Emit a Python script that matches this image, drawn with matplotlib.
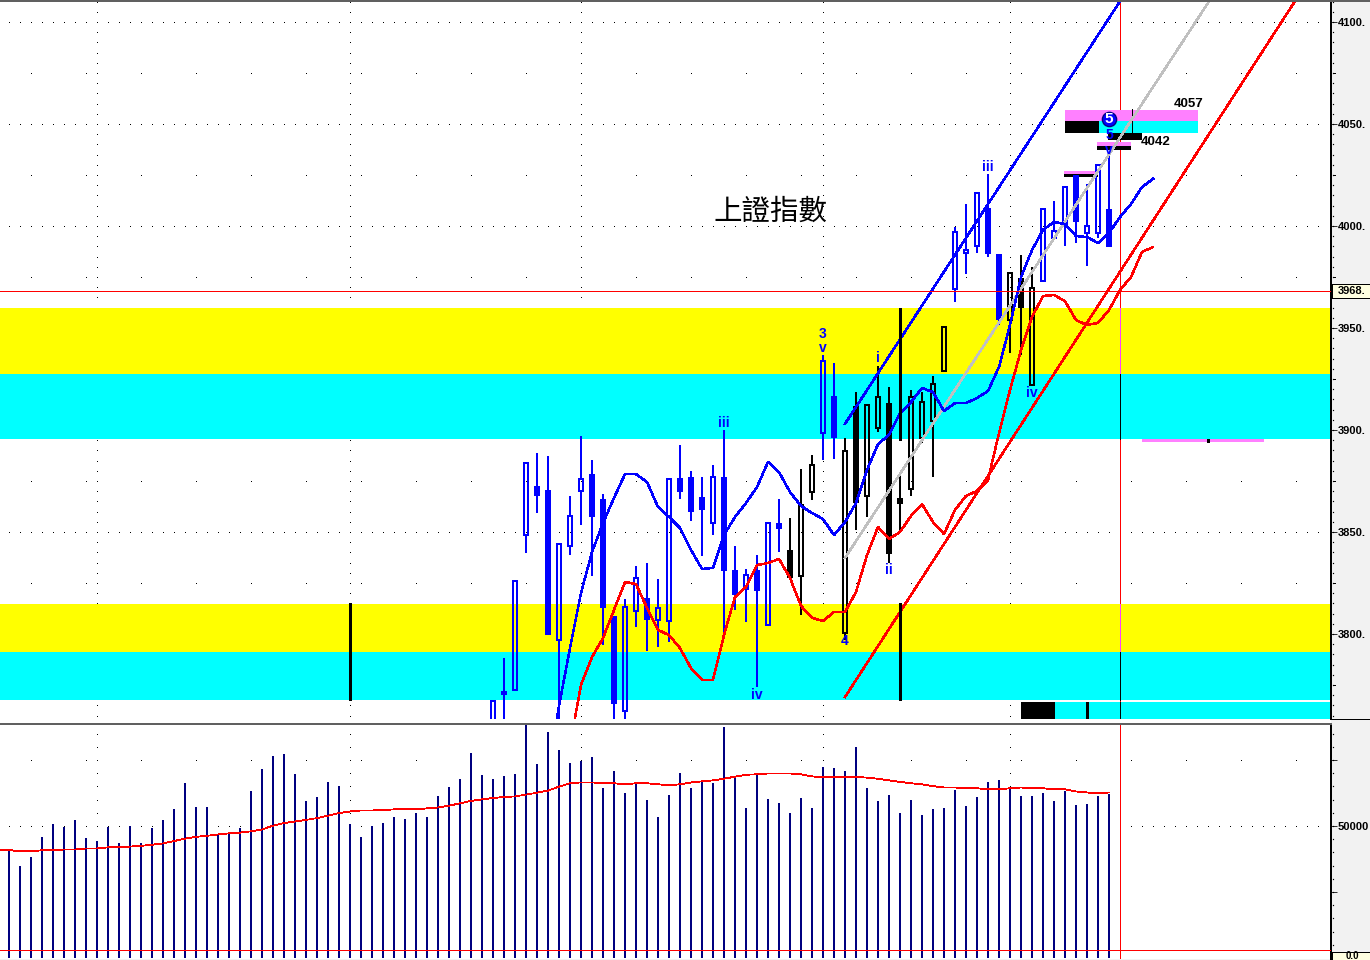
import numpy as np
import matplotlib
matplotlib.use("Agg")
import matplotlib.pyplot as plt
from matplotlib.patches import Rectangle
from matplotlib.lines import Line2D

plt.rcParams['lines.antialiased'] = False
plt.rcParams['patch.antialiased'] = False
SCALE_FONT = 'Liberation Sans'

# ---------- data ----------
title_text = "上證指數"
first_candle = 44
opens = [3750,3771.6,3772.6,3848.5,3872.1,3870.1,3797.1,3843.2,3870.1,3878,3865.7,3808.3,3762.3,3811.3,3817.2,3806.9,3806.4,3876,3876.5,3866.7,3854.4,3876.5,3830.9,3822.1,3830.9,3804.4,3853.9,3840.7,3828.4,3869.6,3898.5,3916.2,3800.5,3911.3,3867.7,3901,3912.8,3866.2,3871.1,3896.1,3904.4,3928.9,3969.1,3986.8,3990.2,4008.3,3985.8,3953.9,3974,3922.1,3973.1,3994.1,4001,4024.5,3996.6,3996.6,4007.9]
highs = [3767.2,3788.2,3826.1,3884,3888.7,3887.3,3844.6,3867.7,3897.1,3885.3,3868.6,3808.3,3817.2,3833.3,3834.8,3827,3876,3892.7,3879.9,3877,3882.9,3900,3843.2,3831.9,3838.7,3854.4,3866.2,3856.9,3880.9,3887.8,3936.8,3932.9,3896.1,3918.6,3912.3,3931.4,3921.1,3878,3919.6,3918.6,3926.5,3950.5,3999.5,4010.8,4016.2,4025.5,3985.8,3977,3985.8,3979.9,4008.3,4012.3,4019.1,4024.5,4020.6,4029.9,4034.3]
lows = [3750,3750,3772.6,3839.9,3859.3,3800,3758,3838.7,3853.4,3828.4,3794.6,3750,3750,3803.4,3791.7,3793.6,3796.1,3866.2,3855.4,3838.2,3848.5,3800.5,3811.8,3805.9,3774,3804.4,3840.2,3827.9,3809.3,3865.7,3885.3,3885.8,3797.1,3851,3857.4,3899,3834.8,3850,3867.7,3893.6,3877,3928.9,3962.8,3976.5,3986.8,3984.8,3951.5,3937.8,3936.8,3922.1,3973.1,3994.1,3990.2,3991.7,3980.4,3994.1,3990.2]
closes = [3767.2,3770.6,3826.1,3884,3868.2,3800,3844.1,3857.9,3876,3857.9,3813.2,3766.2,3813.2,3827.5,3807.4,3812.8,3876,3870.1,3860.3,3861.3,3877,3831.4,3819.6,3828.9,3821.6,3854.4,3852,3827.9,3863.2,3882.9,3933.8,3896.6,3889.7,3864.7,3912.3,3916.2,3839.7,3864.2,3916.2,3913.7,3922.6,3950.5,3997.1,3988.2,4016.2,3986.8,3954.4,3977,3960.3,3969.6,4008.3,3997.6,4019.1,4002.5,4000,4029.9,3990.2]
black_candles = [71,72,73,76,77,78,79,80,81,82,83,84,85,91,92,93]

ma_blue_start = 49
ma_blue = [3733,3764.7,3793.1,3820.1,3840.2,3854.4,3866.7,3878.4,3878.4,3874.5,3862.3,3857.4,3852,3841.2,3831.9,3832.4,3848.5,3857.4,3864.2,3872.1,3884.3,3879.4,3869.6,3862.8,3859.3,3856.4,3848.5,3854.9,3864.2,3880.4,3893.1,3897.6,3908.3,3913.7,3920.6,3918.6,3909.3,3913.2,3913.2,3915.7,3919.1,3930.9,3951.5,3975,3988.2,3998.1,4002,4001,3995.1,3994.6,3991.7,3996.6,4004.4,4010.8,4019.1,4023.1]
ma_red_start = 51
ma_red = [3745.6,3775,3788.7,3798,3811.8,3825.5,3824.5,3812.8,3802,3799.5,3793.1,3783.3,3777.5,3777.5,3799.5,3818.2,3823,3833.8,3834.8,3836.8,3827.5,3813.8,3807.9,3806.4,3810.8,3810.8,3820.6,3838.7,3852.5,3846.6,3850,3857.9,3863.7,3854.9,3849,3860.8,3867.7,3870.1,3875.5,3898.5,3919.6,3939.2,3955.4,3965.7,3966.2,3963.2,3953.9,3951.5,3952.5,3958.8,3968.6,3975,3987.3,3989.7]

trend_k = [76, 109.2]
trend_k_blue = [76, 101.1]
trend_k_red = [76, 117]
trend_blue = [3903, 4111]
trend_gray = [3837.3, 4111]
trend_red = [3769.1, 4111]

volumes = [41.3,34.8,38.2,45.8,50.8,49.7,52.3,45.4,44.4,49.7,43.5,50.0,43.5,49.2,52.3,56.4,66.3,57.2,57.2,46.6,47.2,49.2,63.2,71.6,76.5,77.3,69.7,59.5,61.0,66.6,65.1,50.8,45.8,50.0,51.1,53.4,52.6,54.9,53.4,61.4,64.8,67.8,77.6,69.3,67.8,69.0,69.7,88.3,73.5,85.6,78.8,
           73.9,74.6,76.1,64.4,70.8,62.5,65.9,59.9,53.4,61.7,70.1,64.4,67.0,66.3,87.5,68.2,56.8,69.7,60.2,58.7,54.9,60.6,56.8,72.3,72.0,70.8,79.9,64.4,59.5,61.7,54.9,59.9,54.2,56.4,56.8,63.6,57.6,61.0,66.6,67.4,64.4,61.4,61.4,62.5,59.5,63.2,57.9,58.3,61.4,62.1]
vol_ma = [41.1,40.9,40.4,40.4,40.8,40.8,41.1,41.1,41.5,41.5,41.9,41.9,42.2,42.5,42.9,43.4,44.3,45.2,45.9,46.3,46.8,47.2,47.5,48.0,48.7,50.1,51.1,51.7,52.3,53.0,53.9,54.9,55.5,55.9,55.9,56.0,56.3,56.3,56.3,56.7,57.0,57.7,58.6,59.5,60.1,60.6,61.0,61.2,61.9,62.6,63.4,64.9,
          66.2,66.5,66.5,66.2,66.2,65.8,66.2,66.2,65.8,65.4,65.8,66.5,66.9,67.3,67.9,68.7,69.4,69.6,69.9,69.9,69.9,69.6,68.8,68.4,68.7,68.7,68.7,68.3,67.9,67.3,66.7,66.2,65.8,65.1,64.6,64.6,64.3,64.3,63.9,63.9,64.3,64.6,64.3,64.3,63.9,63.9,63.1,62.7,62.4,62.7]

yellow_bands = [(3927.5, 3959.8), (3791.2, 3814.7)]
cyan_bands = [(3895.6, 3927.5), (3767.7, 3791.2)]
price_ticks = [3800, 3850, 3900, 3950, 4000, 4050, 4100]
mid_ticks = [3775, 3825, 3875, 3925, 3975, 4025, 4075]
grid_columns = [8, 31, 52, 74, 91]
last_price = 3968
cursor_k = 101
vol_line = 3200
vol_major = [25000, 50000, 75000]

wave_labels = [("iii",65,3903.4),("iv",68,3770.1),("3",74,3947.1),("v",74,3940.2),("i",79,3935.3),
               ("ii",80,3831.4),("4",76,3796.6),("iii",89,4028.9),("iv",93,3918.1),("5",100,4044.6),("v",100,4037.3)]

# ---------- layout ----------
W, H = 1370, 960
PX = 1 / 100 * 72          # one pixel, in points
THIN = 0.8 * PX
MED = 1.5 * PX
fig = plt.figure(figsize=(W / 100, H / 100), dpi=100, facecolor='#F2F2F2')
def axes_px(x0, y0, x1, y1):
    return fig.add_axes([x0 / W, 1 - y1 / H, (x1 - x0) / W, (y1 - y0) / H])
ax = axes_px(0, 1, 1331, 719)
vx = axes_px(0, 724, 1331, 959)
XL = (-9 / 11, (1331 - 9) / 11)
PY = lambda y: 4110.8 - y * 0.4902
ax.set_xlim(*XL); vx.set_xlim(*XL)
ax.set_ylim(PY(719), PY(1))
vx.set_ylim(-379, 88640)

# white strip between the panels, frame lines
fig.add_artist(Rectangle((0, 1 - 724 / H), 1331 / W, 5 / H, transform=fig.transFigure, fc='white', ec='none', zorder=0))
fig.add_artist(Line2D([0, 1], [1 - 0.5 / H] * 2, color='#606060', lw=1.5 * PX))
fig.add_artist(Line2D([0, 1331 / W], [1 - 723.5 / H] * 2, color='#606060', lw=2 * PX, zorder=5))
fig.add_artist(Line2D([1331 / W, 1], [1 - 718.5 / H] * 2, color='black', lw=THIN, zorder=5))
fig.add_artist(Line2D([0, 1], [1 - 959.5 / H] * 2, color='black', lw=THIN, zorder=5))

for a in (ax, vx):
    for s in ('top', 'left', 'bottom'):
        a.spines[s].set_visible(False)
    a.spines['right'].set_linewidth(MED)
    a.yaxis.tick_right()
    a.set_xticks([])
    a.tick_params(axis='y', length=6 * PX, width=THIN, pad=0.6)

# ---------- grid dots ----------
def dots(a, xs, ys):
    a.plot(xs, ys, ls='none', marker='s', ms=1.0 * PX, mew=0, color='black', zorder=1)

gk = np.arange(0, 120)
for p in price_ticks:
    dots(ax, gk, np.full(gk.size, p))
mk = np.arange(2, 120, 5)
for p in mid_ticks:
    dots(ax, mk, np.full(mk.size, p))
col_y = np.arange(3760, 4115, 5)
for c in grid_columns:
    dots(ax, np.full(col_y.size, c), col_y)
dots(vx, gk, np.full(gk.size, 50000))
dots(vx, mk, np.full(mk.size, 75000))
vcol_y = np.arange(50000, 90000, 5000)
for c in grid_columns:
    dots(vx, np.full(vcol_y.size, c), vcol_y)

# ---------- bands ----------
for lo, hi in yellow_bands:
    ax.axhspan(lo, hi, color='#FFFF00', lw=0, zorder=2)
for lo, hi in cyan_bands:
    ax.axhspan(lo, hi, color='#00FFFF', lw=0, zorder=2)
ax.add_patch(Rectangle((95.1, PY(719)), 120.1 - 95.1, PY(702) - PY(719), fc='#00FFFF', ec='none', zorder=2))
ax.add_patch(Rectangle((92, PY(719)), 3.1, PY(702) - PY(719), fc='black', ec='none', zorder=3))
ax.add_patch(Rectangle((97.9, PY(719)), 0.27, PY(702) - PY(719), fc='black', ec='none', zorder=3))

# ---------- cursor lines ----------
ax.axvline(cursor_k, color='#FF0000', lw=THIN, zorder=3)
for lo, hi in yellow_bands:
    ax.plot([cursor_k] * 2, [lo, hi], color='#FF40FF', lw=THIN, zorder=3.1)
for lo, hi in cyan_bands + [(PY(719), PY(702))]:
    ax.plot([cursor_k] * 2, [lo, hi], color='black', lw=THIN, zorder=3.1)
vx.axvline(cursor_k, color='#FF0000', lw=THIN, zorder=3)

# ---------- annotation bars ----------
def box(x0, x1, y0, y1, c, z=3.5):
    ax.add_patch(Rectangle((x0, y0), x1 - x0, y1 - y0, fc=c, ec='none', zorder=z))
PINK = '#FF80FF'
box(96, 108.1, 4051.5, 4056.9, PINK)
box(96, 99.1, 4045.6, 4051.5, 'black')
box(99.1, 108.1, 4045.6, 4051.5, '#00FFFF')
box(99.9, 103, 4042.2, 4045.6, 'black')
box(98.9, 102, 4039.2, 4041.2, PINK)
box(98.9, 102, 4037.3, 4039.2, 'black')
box(95.9, 99, 4025.5, 4027, PINK)
box(95.9, 99, 4024, 4025.5, 'black')
box(103, 114.1, 3894.1, 3895.6, PINK)
box(108.9, 109.2, 3893.6, 3895.6, 'black')
ax.plot([102.1, 102.1], [4045.6, 4057.4], color='black', lw=THIN, zorder=3.6)

# ---------- candles ----------
lw2 = 1.8 * PX
for i, (o, h, l, c) in enumerate(zip(opens, highs, lows, closes)):
    k = first_candle + i
    col = 'black' if k in black_candles else '#0000FF'
    top, bot = max(o, c), min(o, c)
    ax.vlines(k, top, h, color=col, lw=lw2, zorder=4)
    ax.vlines(k, l, bot, color=col, lw=lw2, zorder=4)
    ax.bar(k, top - bot, bottom=bot, width=4 / 11, facecolor=col if c < o else 'none',
           edgecolor=col, lw=lw2, zorder=4)

# trend lines and moving averages
ax.plot(trend_k, trend_gray, color='#C0C0C0', lw=MED, zorder=4.5)
ax.plot(trend_k_blue, trend_blue, color='#0000FF', lw=MED, zorder=4.5)
ax.plot(trend_k_red, trend_red, color='#FF0000', lw=MED, zorder=4.5)
ax.plot(np.arange(ma_blue_start, ma_blue_start + len(ma_blue)), ma_blue, color='#0000FF', lw=MED, zorder=5)
ax.plot(np.arange(ma_red_start, ma_red_start + len(ma_red)), ma_red, color='#FF0000', lw=MED, zorder=5)

# thick vertical markers
for k, lo, hi in [(81, 3895.1, 3959.8), (81, 3767.7, 3815.2), (31, 3767.7, 3815.2)]:
    ax.vlines(k, lo, hi, color='black', lw=3 * PX, zorder=5.5)

# last-price line, above the candles
ax.plot(list(XL), [last_price, last_price], color='#FF0000', lw=1.0 * PX, zorder=6, solid_capstyle='butt')

# ---------- texts ----------
for s, k, p in wave_labels:
    ax.text(k, p, s, color='#0000FF', ha='center', va='center', fontsize=10, family='Liberation Sans', fontweight='bold', zorder=7)
ax.text(107.2, 4059.8, "4057", ha='center', va='center', fontsize=9.5, family=SCALE_FONT, fontweight='bold', zorder=7)
ax.text(104.2, 4041.2, "4042", ha='center', va='center', fontsize=9.5, family=SCALE_FONT, fontweight='bold', zorder=7)
ax.scatter([100], [4052.5], s=105, color='#0000FF', edgecolor='#000080', lw=1, zorder=7)
ax.text(100, 4052.5, "5", color='white', ha='center', va='center', fontsize=11, family='Liberation Sans', fontweight='bold', zorder=8)
ax.text(69.2, 4006.8, title_text, ha='center', va='center', fontsize=20.5,
        family=['Noto Sans CJK TC', 'DejaVu Sans'], color='black', zorder=7)

# ---------- right scale, price ----------
ax.set_yticks(price_ticks)
ax.set_yticklabels([f"{p}." for p in price_ticks], family=SCALE_FONT, fontweight='bold', fontsize=8)
tr = ax.get_yaxis_transform()
dx = 2 / 1331
ys = np.arange(3760, 4115, 5)
ax.plot(np.full(ys.size, 1 + dx), ys, transform=tr, ls='none', marker='s', ms=1.2 * PX, mew=0, color='black', clip_on=False)
for p in mid_ticks:
    ax.plot([1 + dx, 1 + 2 * dx], [p, p], transform=tr, color='black', lw=THIN, clip_on=False)
box_y = ax.transData.transform((0, last_price))[1] / H
fig.add_artist(Rectangle((1332 / W, box_y - 7 / H), 38 / W, 14 / H, transform=fig.transFigure,
                         fc='#FFFFE0', ec='black', lw=THIN, zorder=8))
fig.text(1338 / W, box_y, "3968.", ha='left', va='center', family=SCALE_FONT, fontweight='bold', fontsize=8, zorder=9)

# ---------- volume panel ----------
vk = np.arange(len(volumes))
vx.vlines(vk, 0, np.array(volumes) * 1000, color='#000080', lw=1.8 * PX, zorder=2)
vx.plot(np.arange(-1, len(vol_ma) - 1), np.array(vol_ma) * 1000, color='#FF0000', lw=THIN, zorder=3)
vx.axhline(vol_line, color='#FF0000', lw=THIN, zorder=3)
vx.set_yticks(vol_major)
vx.set_yticklabels(["", "50000", ""], family=SCALE_FONT, fontweight='bold', fontsize=8)
vtr = vx.get_yaxis_transform()
vy = np.arange(5000, 90000, 5000)
vx.plot(np.full(vy.size, 1 + dx), vy, transform=vtr, ls='none', marker='s', ms=1.2 * PX, mew=0, color='black', clip_on=False)
fig.add_artist(Rectangle((1332 / W, 0), 38 / W, 8 / H, transform=fig.transFigure, fc='#FFFFE0', ec='black', lw=THIN, zorder=8))
fig.text(1352 / W, 4 / H, "0.0", ha='center', va='center', family=SCALE_FONT, fontweight='bold', fontsize=7, zorder=9)

fig.savefig("out.png", dpi=100, facecolor=fig.get_facecolor())
